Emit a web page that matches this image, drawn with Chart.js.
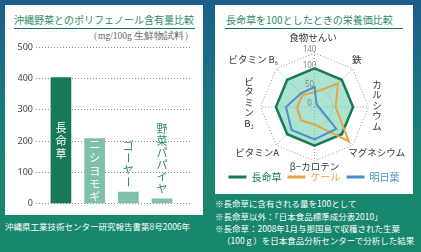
<!DOCTYPE html>
<html>
<head>
<meta charset="utf-8">
<script src="https://cdn.jsdelivr.net/npm/chart.js@4.4.1/dist/chart.umd.min.js"></script>
<style>
html, body { margin: 0; padding: 0; }
body {
  width: 421px; height: 252px; overflow: hidden; position: relative;
  background: linear-gradient(to bottom, #1c5d8b 0%, #1a777f 38%, #18876f 70%, #17876b 100%);
  font-family: "Noto Sans CJK JP", sans-serif;
}
.panel { position: absolute; background: #fff; }
.title { position: absolute; font-size: 10px; color: #2b8c66; white-space: nowrap; line-height: 12px; }
.rule { position: absolute; height: 1px; background: #1d6e52; }
.unit { position: absolute; font-family: "Liberation Serif", serif; font-size: 9.5px; color: #666; white-space: nowrap; }
.note { position: absolute; color: #fff; font-size: 8.5px; white-space: nowrap; line-height: 12px; }
canvas { position: absolute; }
</style>
</head>
<body>
<div class="panel" style="left:5px;top:5px;width:198px;height:210px"></div>
<div class="panel" style="left:215px;top:5px;width:198px;height:189px"></div>

<div class="title" style="left:14px;top:14px">沖縄野菜とのポリフェノール含有量比較</div>
<div class="rule" style="left:14px;top:28px;width:181px"></div>
<div class="unit" style="left:88px;top:30px">（mg/100g 生鮮物試料）</div>

<div class="title" style="left:226px;top:14px">長命草を100としたときの栄養価比較</div>
<div class="rule" style="left:225px;top:28px;width:178px"></div>

<canvas id="bars" style="left:10px;top:39px" width="188" height="173"></canvas>
<canvas id="radar" style="left:215px;top:30px" width="198" height="162"></canvas>

<div class="note" style="left:5px;top:220px">沖縄県工業技術センター研究報告書第8号2006年</div>
<div class="note" style="left:215px;top:197px">※長命草に含有される量を100として</div>
<div class="note" style="left:215px;top:210px">※長命草以外：「日本食品標準成分表2010」</div>
<div class="note" style="left:215px;top:222px">※長命草：2008年1月与那国島で収穫された生葉</div>
<div class="note" style="left:222px;top:234px">（100ｇ）を日本食品分析センターで分析した結果</div>

<script>
// ---- bar chart data ----
var vegNames = ["長命草", "ニシヨモギ", "ゴーヤー", "野菜パパイヤ"];
var polyphenol = [403, 208, 37, 15];
var barTicks = [0, 100, 200, 300, 400, 500];

// ---- radar data ----
var nutrients = ["食物せんい", "鉄", "カルシウム", "マグネシウム", "β−カロテン", "ビタミンA", "ビタミンB₂", "ビタミン B₆"];
var choumeisou = [100, 100, 100, 100, 100, 100, 100, 100];
var kale = [38, 86, 55, 126, 45, 49, 45, 44];
var ashitaba = [52, 8, 11, 80, 84, 84, 74, 50];
var radarTicks = [0, 50, 100, 140];

var darkGreen = "#177a57";
var lightGreen = "#7ec0aa";
var labelGreen = "#2b8c66";

// vertical text inside / above the bars
var barLabels = {
  id: "barLabels",
  afterDatasetsDraw: function (chart) {
    var ctx = chart.ctx;
    var meta = chart.getDatasetMeta(0);
    ctx.save();
    ctx.font = "11px 'Noto Sans CJK JP'";
    ctx.textAlign = "center";
    ctx.textBaseline = "middle";
    meta.data.forEach(function (bar, i) {
      var chars = Array.from(vegNames[i]);
      var inside = polyphenol[i] > 100;
      var step = inside ? 13 : 12;
      var ys = [];
      if (inside) {
        var mid = (bar.y + bar.base) / 2;
        var start = mid - (chars.length - 1) * step / 2;
        chars.forEach(function (c, k) { ys.push(start + k * step); });
        ctx.fillStyle = "#fff";
      } else {
        var last = bar.y - 10;
        chars.forEach(function (c, k) { ys.push(last - (chars.length - 1 - k) * step); });
        ctx.fillStyle = labelGreen;
      }
      chars.forEach(function (c, k) {
        if (c === "ー") {
          ctx.save();
          ctx.translate(bar.x, ys[k]);
          ctx.rotate(Math.PI / 2);
          ctx.fillText(c, 0, 0);
          ctx.restore();
        } else {
          ctx.fillText(c, bar.x, ys[k]);
        }
      });
    });
    ctx.restore();
  }
};

new Chart(document.getElementById("bars"), {
  type: "bar",
  data: {
    datasets: [{
      data: polyphenol.map(function (v, i) { return { x: i, y: v }; }),
      backgroundColor: polyphenol.map(function (v, i) { return i === 0 ? darkGreen : lightGreen; }),
      barThickness: 20
    }]
  },
  options: {
    responsive: false,
    animation: false,
    layout: { padding: { top: 0, right: 8, bottom: 0, left: 0 } },
    plugins: { legend: { display: false }, tooltip: { enabled: false } },
    scales: {
      x: { type: "linear", min: -0.74, max: 3.83, offset: false, display: false },
      y: {
        min: 0, max: 500,
        afterFit: function (s) { s.width = 26; },
        afterBuildTicks: function (s) { s.ticks = barTicks.map(function (v) { return { value: v }; }); },
        ticks: { color: "#444", font: { size: 9, family: "'Noto Sans', sans-serif" }, padding: 3 },
        grid: { color: "#8a8a8a", drawTicks: false },
        border: { display: false, dash: [1, 2] }
      }
    }
  },
  plugins: [barLabels]
});

// point labels and tick numbers drawn on the radial scale
var radarText = {
  id: "radarText",
  afterDraw: function (chart) {
    var r = chart.scales.r;
    var ctx = chart.ctx;
    var offsets = [[-1.5, -6], [-3, -2], [-1.5, -2], [17, 0], [0, -5], [-12, 0], [-1.5, -5], [-16, -2]];
    ctx.save();
    ctx.fillStyle = "#333";
    ctx.font = "9.5px 'Noto Sans CJK JP'";
    ctx.textAlign = "center";
    ctx.textBaseline = "middle";
    nutrients.forEach(function (t, i) {
      var p = r.getPointPosition(i, r.drawingArea + 10);
      var x = p.x + offsets[i][0], y = p.y + offsets[i][1];
      if (i === 2 || i === 6) {
        var parts = t.replace(" ", "").match(/B[₂₆]|./gu);
        var step = 10.5;
        var y0 = y - (parts.length - 1) * step / 2;
        parts.forEach(function (c, k) { ctx.fillText(c, x, y0 + k * step); });
      } else {
        ctx.fillText(t, x, y);
      }
    });
    ctx.fillStyle = "#888";
    ctx.font = "8px 'Noto Sans', sans-serif";
    radarTicks.forEach(function (v) {
      var q = r.getPointPosition(0, r.getDistanceFromCenterForValue(v));
      ctx.fillText(String(v), q.x - 5, q.y - 3);
    });
    ctx.restore();
  }
};

function legendItems(chart) {
  return chart.data.datasets.map(function (ds, i) {
    return {
      text: ds.label, fillStyle: ds.borderColor, strokeStyle: ds.borderColor,
      fontColor: ds.borderColor, lineWidth: 3, pointStyle: "line",
      hidden: false, datasetIndex: i
    };
  });
}

new Chart(document.getElementById("radar"), {
  type: "radar",
  data: {
    labels: nutrients,
    datasets: [
      { label: "長命草", data: choumeisou, borderColor: darkGreen, backgroundColor: "rgba(122,210,180,0.62)", fill: true, borderWidth: 2.5, order: 3 },
      { label: "ケール", data: kale, borderColor: "#e8a444", backgroundColor: "transparent", fill: false, borderWidth: 2, order: 2 },
      { label: "明日葉", data: ashitaba, borderColor: "#4d8fcc", backgroundColor: "transparent", fill: false, borderWidth: 2, order: 1 }
    ]
  },
  options: {
    responsive: false,
    animation: false,
    elements: { point: { radius: 0 }, line: { tension: 0, borderJoinStyle: "miter" } },
    plugins: {
      tooltip: { enabled: false },
      legend: {
        position: "bottom",
        labels: {
          usePointStyle: true, pointStyleWidth: 18, padding: 6,
          font: { size: 10, family: "'Noto Sans CJK JP'" },
          generateLabels: legendItems
        }
      }
    },
    scales: {
      r: {
        min: 0, max: 140, z: 1,
        afterBuildTicks: function (s) { s.ticks = radarTicks.map(function (v) { return { value: v }; }); },
        afterFit: function (s) { s.xCenter = 99.5; s.yCenter = 77; s.drawingArea = 54; },
        ticks: { display: false },
        pointLabels: { display: false },
        grid: { circular: false, color: "#8f8f8f" },
        border: { dash: [1, 2] },
        angleLines: { color: "#8f8f8f", borderDash: [1, 2] }
      }
    }
  },
  plugins: [radarText]
});
</script>
</body>
</html>
